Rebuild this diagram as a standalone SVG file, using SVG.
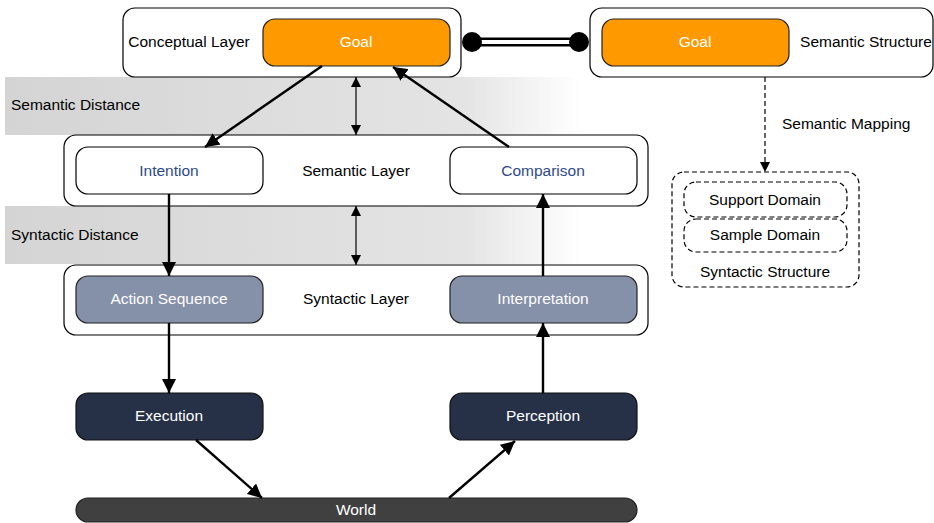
<svg xmlns="http://www.w3.org/2000/svg" width="934" height="523" viewBox="0 0 934 523">
<defs>
<linearGradient id="band" x1="5" y1="0" x2="580" y2="0" gradientUnits="userSpaceOnUse">
<stop offset="0" stop-color="#d4d4d4"/>
<stop offset="0.8" stop-color="#e4e4e4"/>
<stop offset="1" stop-color="#ffffff"/>
</linearGradient>
<marker id="ah" viewBox="0 0 10 10" refX="10" refY="5" markerWidth="10" markerHeight="10" markerUnits="userSpaceOnUse" orient="auto">
<path d="M0,0 L10,5 L0,10 Z" fill="#000"/>
</marker>
<marker id="ahs" viewBox="0 0 10 10" refX="0" refY="5" markerWidth="10" markerHeight="10" markerUnits="userSpaceOnUse" orient="auto">
<path d="M10,0 L0,5 L10,10 Z" fill="#000"/>
</marker>
<marker id="ahl" viewBox="0 0 14 14" refX="14" refY="7" markerWidth="14" markerHeight="14" markerUnits="userSpaceOnUse" orient="auto">
<path d="M0,0 L14,7 L0,14 Z" fill="#000"/>
</marker>
</defs>
<style>
text{font-family:"Liberation Sans",Arial,Helvetica,sans-serif;font-size:15.5px;fill:#000;}
.c{text-anchor:middle;}
.w{fill:#fff;}
.b{fill:#2f4a8a;}
.outer{fill:#fff;stroke:#000;stroke-width:1.2;}
.goal{fill:#ff9900;stroke:#222;stroke-width:1.2;}
.sem{fill:#fff;stroke:#000;stroke-width:1.2;}
.syn{fill:#8590a9;stroke:#222;stroke-width:1.2;}
.phy{fill:#263148;stroke:#111;stroke-width:1.2;}
.dash{fill:none;stroke:#000;stroke-width:1.2;stroke-dasharray:5,3;}
.conn{fill:none;stroke:#000;stroke-width:2.4;}
.thin{fill:none;stroke:#000;stroke-width:1.2;}
</style>
<g id="bands">
<rect x="5" y="77" width="575" height="58" fill="url(#band)"/>
<text x="11" y="110">Semantic Distance</text>
<rect x="5" y="206" width="575" height="58" fill="url(#band)"/>
<text x="11" y="240">Syntactic Distance</text>
</g>
<g id="conceptual-layer">
<rect class="outer" x="123" y="8" width="338" height="69" rx="12"/>
<text x="189" y="47" class="c">Conceptual Layer</text>
</g>
<g id="goal">
<rect class="goal" x="263" y="19" width="187" height="47" rx="12"/>
<text x="356" y="47" class="c w">Goal</text>
</g>
<g id="semantic-structure">
<rect class="outer" x="590" y="8" width="343" height="69" rx="12"/>
<text x="866" y="47" class="c">Semantic Structure</text>
</g>
<g id="goal-2">
<rect class="goal" x="602" y="19" width="187" height="47" rx="12"/>
<text x="695" y="47" class="c w">Goal</text>
</g>
<g id="semantic-layer">
<rect class="outer" x="64" y="135" width="584" height="71" rx="12"/>
<text x="356" y="176" class="c">Semantic Layer</text>
</g>
<g id="intention">
<rect class="sem" x="76" y="147" width="187" height="47" rx="12"/>
<text x="169" y="176" class="c b">Intention</text>
</g>
<g id="comparison">
<rect class="sem" x="450" y="147" width="187" height="47" rx="12"/>
<text x="543" y="176" class="c b">Comparison</text>
</g>
<g id="syntactic-layer">
<rect class="outer" x="64" y="265" width="584" height="70" rx="12"/>
<text x="356" y="304" class="c">Syntactic Layer</text>
</g>
<g id="action-sequence">
<rect class="syn" x="76" y="276" width="187" height="47" rx="12"/>
<text x="169" y="304" class="c w">Action Sequence</text>
</g>
<g id="interpretation">
<rect class="syn" x="450" y="276" width="187" height="47" rx="12"/>
<text x="543" y="304" class="c w">Interpretation</text>
</g>
<g id="execution">
<rect class="phy" x="76" y="393" width="187" height="47" rx="12"/>
<text x="169" y="421" class="c w">Execution</text>
</g>
<g id="perception">
<rect class="phy" x="450" y="393" width="187" height="47" rx="12"/>
<text x="543" y="421" class="c w">Perception</text>
</g>
<g id="world">
<rect x="76" y="498" width="561" height="24" rx="12" fill="#404040" stroke="#222" stroke-width="1.2"/>
<text x="356" y="515" class="c w">World</text>
</g>
<g id="syntactic-structure">
<rect class="dash" x="672" y="172" width="187" height="115" rx="12"/>
<text x="765" y="277" class="c">Syntactic Structure</text>
</g>
<g id="support-domain">
<rect class="dash" x="684" y="182" width="163" height="35" rx="12"/>
<text x="765" y="205" class="c">Support Domain</text>
</g>
<g id="sample-domain">
<rect class="dash" x="684" y="219" width="163" height="33" rx="12"/>
<text x="765" y="240" class="c">Sample Domain</text>
</g>
<g id="connectors">
<line x1="472" y1="42" x2="579" y2="42" stroke="#000" stroke-width="9"/>
<line x1="472" y1="42" x2="579" y2="42" stroke="#fff" stroke-width="4"/>
<circle cx="472" cy="42" r="10" fill="#000"/>
<circle cx="579" cy="42" r="10" fill="#000"/>
<line class="conn" x1="322" y1="66" x2="205" y2="147" marker-end="url(#ahl)"/>
<line class="conn" x1="509" y1="147" x2="393" y2="67" marker-end="url(#ahl)"/>
<line class="thin" x1="356" y1="77" x2="356" y2="135" marker-start="url(#ahs)" marker-end="url(#ah)"/>
<line class="thin" x1="356" y1="206" x2="356" y2="265" marker-start="url(#ahs)" marker-end="url(#ah)"/>
<line class="conn" x1="169" y1="194" x2="169" y2="276" marker-end="url(#ahl)"/>
<line class="conn" x1="169" y1="323" x2="169" y2="393" marker-end="url(#ahl)"/>
<line class="conn" x1="196" y1="440" x2="262" y2="498" marker-end="url(#ahl)"/>
<line class="conn" x1="449" y1="498" x2="515" y2="441" marker-end="url(#ahl)"/>
<line class="conn" x1="543" y1="393" x2="543" y2="323" marker-end="url(#ahl)"/>
<line class="conn" x1="543" y1="276" x2="543" y2="194" marker-end="url(#ahl)"/>
<line class="dash" x1="765" y1="77" x2="765" y2="172" marker-end="url(#ah)"/>
<text x="782" y="129">Semantic Mapping</text>
</g>
</svg>
